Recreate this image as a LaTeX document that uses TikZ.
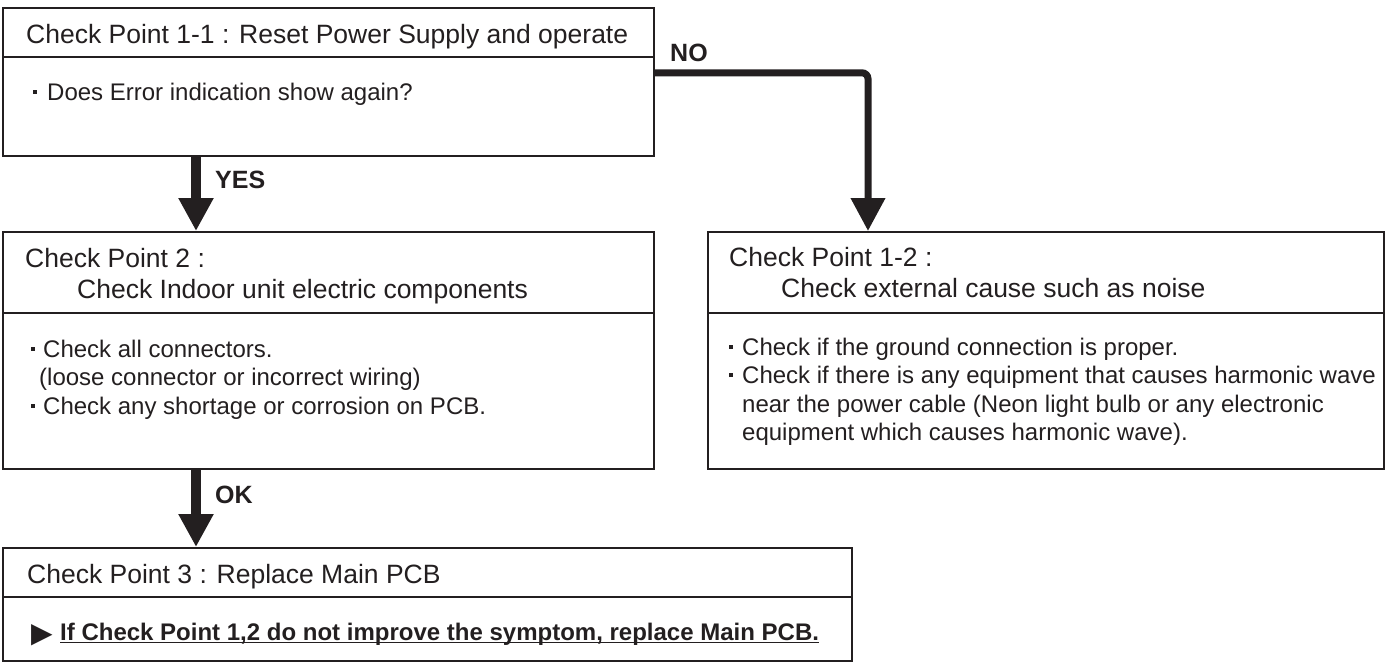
\documentclass[tikz,border=0pt]{standalone}
\usepackage{fontspec}
\setmainfont{Liberation Sans}
\newfontfamily\dejavu{DejaVu Sans}
\usetikzlibrary{arrows.meta}
\definecolor{ink}{HTML}{231F20}
\newcommand\sqb{\textcolor{ink}{\rule[6.5pt]{4pt}{4pt}}}
\begin{document}
\begin{tikzpicture}[x=1pt,y=-1pt,
  box/.style={draw=ink, line width=1.6pt, rectangle, inner sep=0pt, anchor=north west},
  divider/.style={draw=ink, line width=1.6pt},
  txt/.style={anchor=base west, inner sep=0pt, text=ink, font=\fontsize{24pt}{28pt}\selectfont},
  ttl/.style={anchor=base west, inner sep=0pt, text=ink, font=\fontsize{26.5pt}{30pt}\selectfont},
  lbl/.style={anchor=base west, inner sep=0pt, text=ink, font=\fontsize{24pt}{28pt}\selectfont\bfseries},
  flbl/.style={anchor=base west, inner sep=0pt, text=ink, font=\fontsize{25pt}{28pt}\selectfont\bfseries},
  flow/.style={draw=ink, line width=10pt, -{Triangle[length=33pt,width=33pt]}},
]
\useasboundingbox (0,0) rectangle (1386,662);

% boxes
\node[box, minimum width=651pt, minimum height=148pt] (b1) at (2,7) {};
\node[box, minimum width=651pt, minimum height=237pt] (b2) at (2,231) {};
\node[box, minimum width=676pt, minimum height=237pt] (b12) at (707,231) {};
\node[box, minimum width=849pt, minimum height=113pt] (b3) at (2,547) {};

% dividers
\draw[divider] ([yshift=-50pt]b1.north west) -- ([yshift=-50pt]b1.north east);
\draw[divider] ([yshift=-82pt]b2.north west) -- ([yshift=-82pt]b2.north east);
\draw[divider] ([yshift=-82pt]b12.north west) -- ([yshift=-82pt]b12.north east);
\draw[divider] ([yshift=-50pt]b3.north west) -- ([yshift=-50pt]b3.north east);

% box 1
\node[ttl] (t1) at (26,43) {Check Point 1-1 : Reset Power Supply and operate};
\node[txt] (t1a) at (33,100) {\sqb\hspace{10pt}Does Error indication show again?};

% box 2
\node[ttl] (t2) at (25,267) {Check Point 2 :};
\node[ttl] (t2b) at (77,298) {Check Indoor unit electric components};
\node[txt] (t2c) at (31,357) {\sqb\hspace{8pt}Check all connectors.};
\node[txt] (t2d) at (39,385) {(loose connector or incorrect wiring)};
\node[txt] (t2e) at (31,414) {\sqb\hspace{8pt}Check any shortage or corrosion on PCB.};

% box 1-2
\node[ttl] (t12) at (729,266) {Check Point 1-2 :};
\node[ttl] (t12b) at (781,297) {Check external cause such as noise};
\node[txt] (t12c) at (729,355) {\sqb\hspace{9pt}Check if the ground connection is proper.};
\node[txt] (t12d) at (729,383.5) {\sqb\hspace{9pt}Check if there is any equipment that causes harmonic wave};
\node[txt] (t12e) at (742,412) {near the power cable (Neon light bulb or any electronic};
\node[txt] (t12f) at (742,440) {equipment which causes harmonic wave).};

% box 3
\node[ttl] (t3) at (27,583) {Check Point 3 : Replace Main PCB};
\node[anchor=base west, inner sep=0pt, text=ink, font=\dejavu\fontsize{28pt}{30pt}\selectfont] (tri) at (31,642) {▶};
\node[lbl] (t3b) at (60,640) {If Check Point 1,2 do not improve the symptom, replace Main PCB.};
\draw[divider] ([yshift=-2.5pt]t3b.base west) -- ([yshift=-2.5pt]t3b.base east);

% labels
\node[flbl] (yes) at (215,188) {YES};
\node[flbl] (no) at (670,61) {NO};
\node[flbl] (ok) at (215,503) {OK};

% connectors
\draw[flow] ([xshift=194pt]b1.south west) -- ([xshift=194pt]b2.north west);
\draw[flow] ([xshift=194pt]b2.south west) -- ([xshift=194pt]b3.north west);
\draw[flow, line width=7pt, rounded corners=6pt] ([yshift=9pt]b1.east) -| ([xshift=161pt]b12.north west);
\end{tikzpicture}
\end{document}
